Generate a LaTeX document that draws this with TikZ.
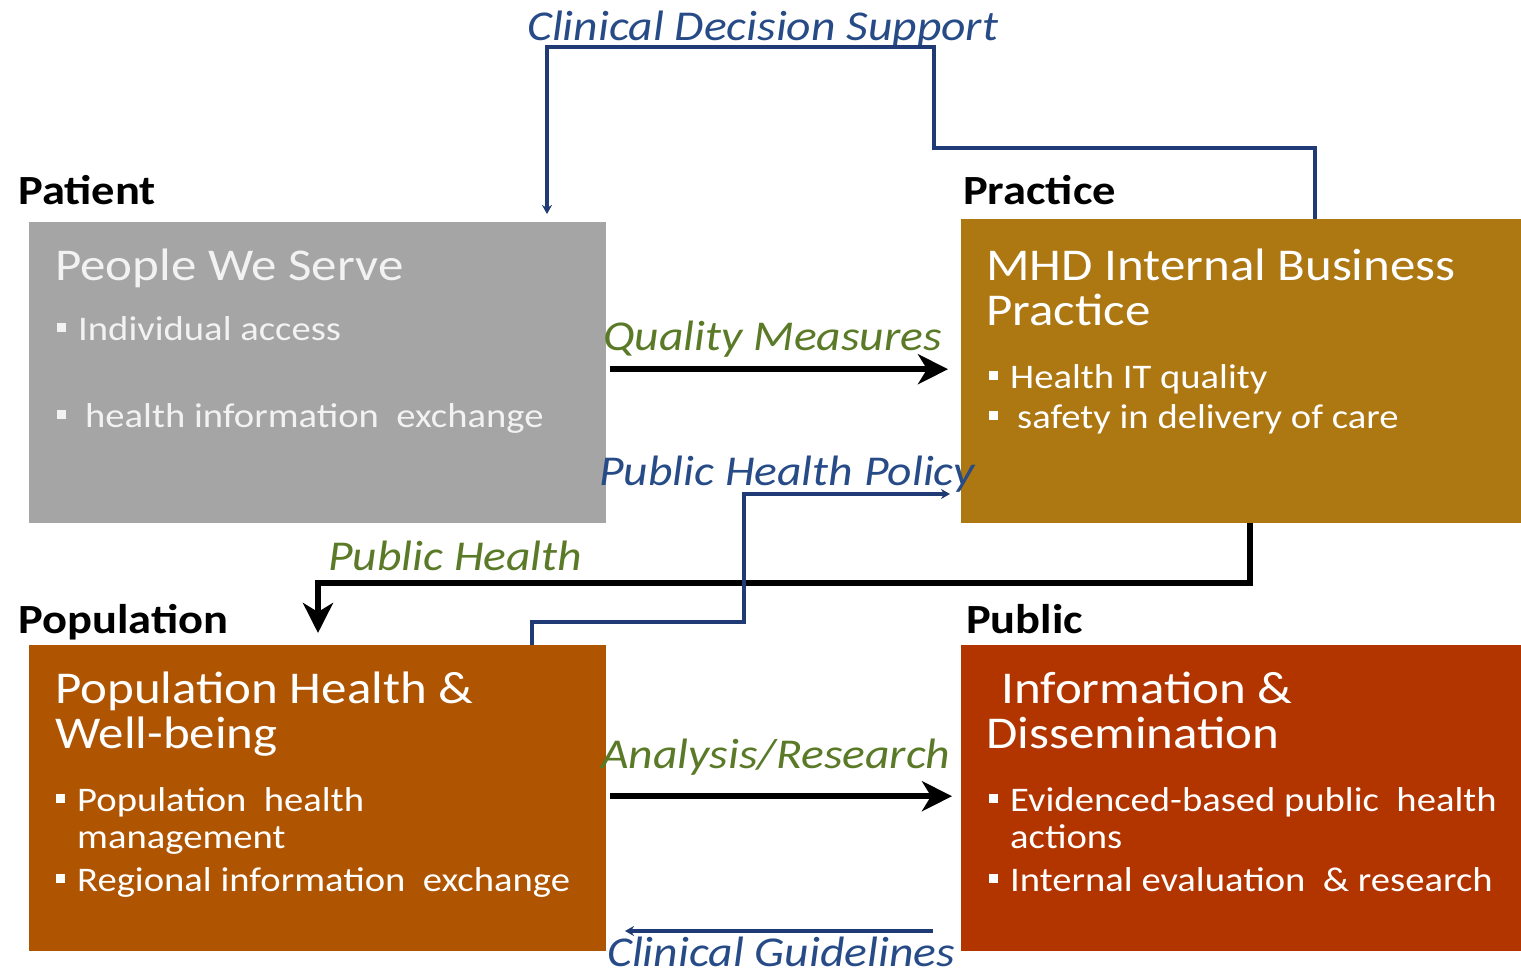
\documentclass[tikz,border=0pt]{standalone}
\usepackage{fontspec}
\setmainfont{Carlito}[FakeStretch=1.12]
\usetikzlibrary{arrows.meta,calc}
\definecolor{boxgray}{HTML}{A5A5A5}
\definecolor{boxgold}{HTML}{AD7711}
\definecolor{boxrust}{HTML}{AF5400}
\definecolor{boxred}{HTML}{B23500}
\definecolor{navyln}{HTML}{1F3A75}
\definecolor{bluetxt}{HTML}{274B86}
\definecolor{greentxt}{HTML}{5A7A28}
\definecolor{patwhite}{HTML}{F2F2F2}
\newcommand{\bul}[1]{\llap{\rule[8pt]{9pt}{9pt}\hspace{#1pt}}}
\begin{document}
\begin{tikzpicture}[x=1pt,y=-1pt,
 box/.style={draw=none,inner sep=0,anchor=north west},
 head/.style={anchor=base west,inner sep=0,font=\fontsize{41.5}{50}\selectfont\bfseries},
 ttl/.style={anchor=base west,inner sep=0,text=white,font=\fontsize{45.5}{52}\selectfont},
 itm/.style={anchor=base west,inner sep=0,text=white,font=\fontsize{34.5}{40}\selectfont},
 clab/.style={anchor=base west,inner sep=0,font=\fontsize{42.5}{48}\selectfont\itshape},
 navy/.style={draw=navyln,line width=3.5pt},
 navyarr/.style={navy,-{Stealth[length=9pt,width=10pt]}},
 bigarr/.style={draw=black,line width=6pt,-{Stealth[length=30pt,width=30pt,inset=9pt]}},
]
\useasboundingbox (0,0) rectangle (1521,974);
% boxes
\node[box,fill=boxgray,minimum width=577pt,minimum height=301pt] (pat) at (29,222) {};
\node[box,fill=boxgold,minimum width=560pt,minimum height=304pt] (prac) at (961,219) {};
\node[box,fill=boxrust,minimum width=577pt,minimum height=306pt] (pop) at (29,645) {};
\node[box,fill=boxred,minimum width=560pt,minimum height=306pt] (pub) at (961,645) {};
% headings
\node[head] (hpat) at (18,204) {Patient};
\node[head] (hprac) at (963,204) {Practice};
\node[head] (hpop) at (18,633) {Population};
\node[head] (hpub) at (966,633) {Public};
% patient text
\node[ttl,text=patwhite] (t1) at (55,280) {People We Serve};
\node[itm,text=patwhite] (t1a) at (78,340) {\bul{12}Individual access};
\node[itm,text=patwhite] (t1b) at (85,427) {\bul{19}health information\ \ exchange};
% practice text
\node[ttl] (t2) at (986,280) {MHD Internal Business};
\node[ttl] (t2b) at (986,325) {Practice};
\node[itm] (t2c) at (1010,388) {\bul{12}Health IT quality};
\node[itm] (t2d) at (1017,428) {\bul{19}safety in delivery of care};
% population text
\node[ttl] (t3) at (55,703) {Population Health \&};
\node[ttl] (t3b) at (55,748) {Well-being};
\node[itm] (t3c) at (77,811) {\bul{12}Population\ \ health};
\node[itm] (t3d) at (77,848) {management};
\node[itm] (t3e) at (77,891) {\bul{12}Regional information\ \ exchange};
% public text
\node[ttl] (t4) at (1001,703) {Information \&};
\node[ttl] (t4b) at (986,748) {Dissemination};
\node[itm] (t4c) at (1010,811) {\bul{12}Evidenced-based public\ \ health};
\node[itm] (t4d) at (1010,848) {actions};
\node[itm] (t4e) at (1010,891) {\bul{12}Internal evaluation\ \ \& research};
% connector labels
\node[clab,text=bluetxt] (lcds) at (527,41) {Clinical Decision Support};
\node[clab,text=greentxt] (lqm) at (603,350) {Quality Measures};
\node[clab,text=bluetxt] (lphp) at (599,485) {Public Health Policy};
\node[clab,text=greentxt] (lph) at (328,570) {Public\ Health};
\node[clab,text=greentxt] (lar) at (601,768) {Analysis/Research};
\node[clab,text=bluetxt,text depth=0pt] (lcg) at (607,966) {Clinical Guidelines};
% connectors
\coordinate (c1) at (934,148);
\coordinate (c2) at (934,47);
\draw[navyarr,shorten >=8pt] ($(prac.north west)+(354,0)$) |- (c1) -- (c2) -| ($(pat.north west)+(518,0)$);
\coordinate (q1) at ($(pat.east)+(4,-3.5)$);
\draw[bigarr,shorten >=13pt] (q1) -- (q1 -| prac.west);
\coordinate (a1) at ($(pop.east)+(4,-2)$);
\draw[bigarr,shorten >=9pt] (a1) -- (a1 -| pub.west);
\coordinate (ph1) at (318,583);
\draw[bigarr,shorten >=12pt] ($(prac.south west)+(289,0)$) |- (ph1) -- (ph1 |- pop.north);
\coordinate (pp1) at (744,622);
\coordinate (pp2) at (744,494);
\draw[navyarr,shorten >=11pt] ($(pop.north west)+(503,0)$) |- (pp1) -- (pp2) -- (pp2 -| prac.west);
\coordinate (cg1) at (933,931);
\coordinate (cg2) at (625,931);
\draw[navyarr] (cg1) -- (cg2);
\end{tikzpicture}
\end{document}
